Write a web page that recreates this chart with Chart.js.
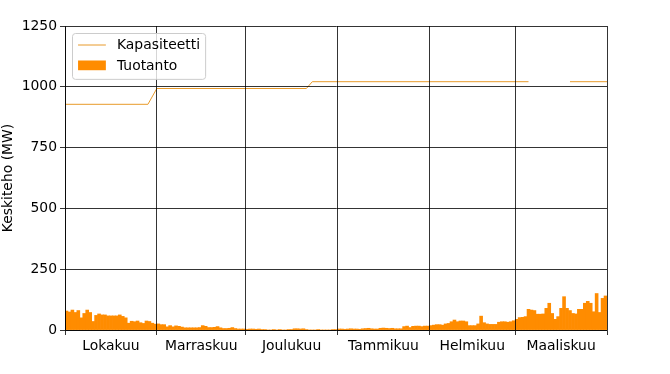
<!DOCTYPE html>
<html><head><meta charset="utf-8">
<script src="https://cdn.jsdelivr.net/npm/chart.js@4.4.1/dist/chart.umd.min.js"></script>
<style>html,body{margin:0;padding:0;background:#fff;}#wrap{width:670px;height:374px;}</style>
</head><body><div id="wrap"><canvas id="c" width="670" height="374"></canvas></div>
<script>
const months = ['Lokakuu','Marraskuu','Joulukuu','Tammikuu','Helmikuu','Maaliskuu'];
const monthDays = [31,30,31,31,29,31];
const prodOct = [78,74,82,72,80,50,68,82,72,35,60,66,62,62,58,58,58,58,62,56,50,28,36,34,37,30,27,37,35,28,24];
const prodNov = [25,22,22,13,18,13,17,15,12,9,9,9,9,9,10,18,15,10,10,11,14,9,6,6,7,10,6,4,4,4];
const prodDec = [3,4,4,3,4,2,1,0,0,1,0,1,0,0,1,2,5,5,4,5,1,0,0,0,1,0,0,0,0,1,2];
const prodJan = [4,4,3,4,5,4,4,3,5,6,7,5,4,4,7,8,7,6,7,5,5,5,14,16,10,15,16,16,14,16,16];
const prodFeb = [18,20,22,22,20,25,27,34,41,34,37,37,34,18,18,18,25,57,30,25,23,23,23,32,34,34,32,34,38];
const prodMar = [44,51,52,55,85,82,80,65,65,66,89,110,68,44,55,89,137,89,80,68,66,85,85,110,118,110,75,150,72,130,140];
const production = [].concat(prodOct, prodNov, prodDec, prodJan, prodFeb, prodMar);
const capacityDays   = [0, 28, 31, 81.5, 83.5, 156.5, 157, 170.5, 183];
const capacityValues = [928, 928, 993, 993, 1021, 1021, null, 1021, 1021];
const yTicks = [0, 250, 500, 750, 1000, 1250];
const seriesLabels = ['Kapasiteetti', 'Tuotanto'];

const FONT = 'DejaVu Sans';
const FS = 13.9;

const bounds = [0];
monthDays.forEach(d => bounds.push(bounds[bounds.length-1] + d));
const mids = monthDays.map((d,i) => bounds[i] + d/2);
const totalDays = bounds[bounds.length-1];
const xTickVals = bounds.concat(mids).sort((a,b)=>a-b);
const isBound = v => bounds.some(b => Math.abs(b - v) < 1e-6);
const midLabel = v => { const i = mids.findIndex(m => Math.abs(m - v) < 1e-6); return i >= 0 ? months[i] : ''; };

const legendPlugin = {
  id: 'mplLegend',
  afterDraw(chart) {
    const ctx = chart.ctx, ca = chart.chartArea;
    const ds = chart.data.datasets;
    const em = FS, gap = 0.5*em;
    ctx.save();
    ctx.font = FS + 'px "' + FONT + '"';
    const tw = Math.max(...ds.map(d => ctx.measureText(d.label).width));
    const x0 = Math.round(ca.left + 0.5*em) + 0.5, y0 = Math.round(ca.top + 0.5*em) + 0.5;
    const w = 0.4*em + 2*em + 0.8*em + tw + 0.4*em;
    const h = 0.8*em + ds.length*em + (ds.length-1)*gap;
    const r = 3;
    ctx.beginPath();
    ctx.moveTo(x0+r, y0); ctx.lineTo(x0+w-r, y0); ctx.arcTo(x0+w, y0, x0+w, y0+r, r);
    ctx.lineTo(x0+w, y0+h-r); ctx.arcTo(x0+w, y0+h, x0+w-r, y0+h, r);
    ctx.lineTo(x0+r, y0+h); ctx.arcTo(x0, y0+h, x0, y0+h-r, r);
    ctx.lineTo(x0, y0+r); ctx.arcTo(x0, y0, x0+r, y0, r); ctx.closePath();
    ctx.fillStyle = 'rgba(255,255,255,0.8)'; ctx.fill();
    ctx.strokeStyle = '#cccccc'; ctx.lineWidth = 1; ctx.stroke();
    ds.forEach((d, i) => {
      const cy = y0 + 0.4*em + em/2 - 1.5 + i*(em + gap);
      const hx = x0 + 0.4*em;
      if (d.type === 'line') {
        ctx.strokeStyle = d.borderColor; ctx.lineWidth = d.borderWidth;
        ctx.beginPath(); ctx.moveTo(hx, Math.round(cy)); ctx.lineTo(hx + 2*em, Math.round(cy)); ctx.stroke();
      } else {
        ctx.fillStyle = d.backgroundColor;
        ctx.fillRect(hx, cy - 0.35*em, 2*em, 0.7*em);
      }
      ctx.fillStyle = '#000'; ctx.textBaseline = 'middle'; ctx.textAlign = 'left';
      ctx.fillText(d.label, hx + 2.8*em, cy + 1);
    });
    ctx.restore();
  }
};

new Chart(document.getElementById('c'), {
  type: 'bar',
  data: {
    datasets: [
      {
        type: 'line', label: seriesLabels[0], order: 0,
        data: capacityDays.map((d,i) => ({x: d, y: capacityValues[i]})),
        borderColor: '#e89a2a', borderWidth: 1, pointRadius: 0, spanGaps: false, fill: false, tension: 0
      },
      {
        type: 'bar', label: seriesLabels[1], order: 1,
        data: production.map((v,i) => ({x: i + 0.5, y: v})),
        backgroundColor: '#ff8c00', borderWidth: 0,
        barPercentage: 1.0, categoryPercentage: 1.0
      }
    ]
  },
  options: {
    responsive: false, animation: false, devicePixelRatio: 1,
    layout: { padding: { left: 0, top: 26, right: 63, bottom: 0 } },
    plugins: { legend: { display: false }, tooltip: { enabled: false } },
    scales: {
      x: {
        type: 'linear', min: 0, max: totalDays, offset: false,
        afterBuildTicks: s => { s.ticks = xTickVals.map(v => ({value: v})); },
        afterFit: s => { s.height = 44; },
        ticks: {
          autoSkip: false, maxRotation: 0, minRotation: 0, padding: 3,
          color: '#000', font: { family: FONT, size: FS },
          callback: v => midLabel(v)
        },
        grid: {
          offset: false, z: 1, lineWidth: 0.8, tickLength: 5,
          color: c => (c.tick && isBound(c.tick.value)) ? '#000' : 'rgba(0,0,0,0)',
          tickColor: c => (c.tick && isBound(c.tick.value)) ? '#000' : 'rgba(0,0,0,0)'
        },
        border: { display: true, color: '#000', width: 0.8, z: 1 }
      },
      y: {
        min: 0, max: 1250,
        afterBuildTicks: s => { s.ticks = yTicks.map(v => ({value: v})); },
        afterFit: s => { s.width = 65; },
        ticks: { color: '#000', padding: 3, font: { family: FONT, size: FS }, callback: v => String(v) },
        grid: { color: '#000', lineWidth: 0.8, tickLength: 5, z: 1 },
        border: { display: true, color: '#000', width: 0.8, z: 1 },
        title: { display: true, text: 'Keskiteho (MW)', color: '#000', padding: 0, font: { family: FONT, size: FS } }
      }
    }
  },
  plugins: [legendPlugin]
});
</script>
</body></html>
